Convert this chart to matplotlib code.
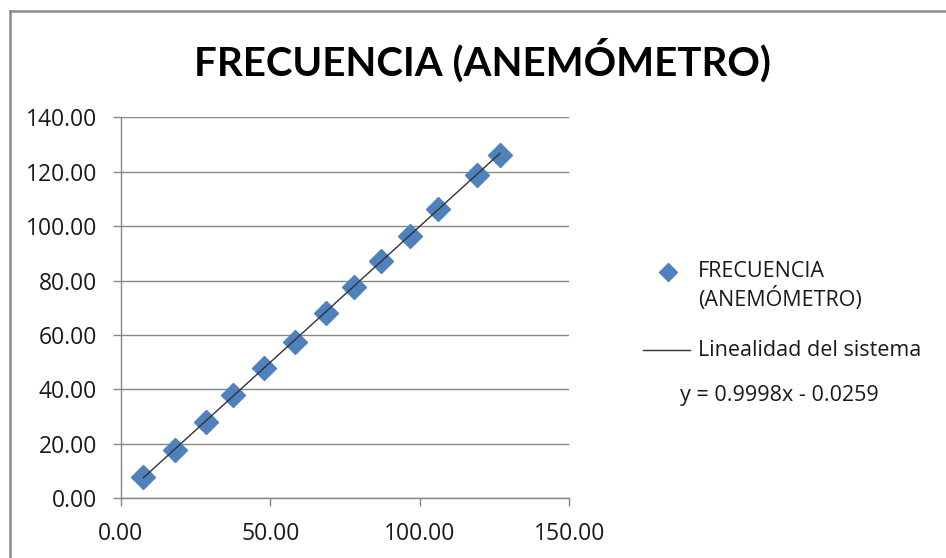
import numpy as np
import matplotlib
matplotlib.use("Agg")
import matplotlib.pyplot as plt
from matplotlib.lines import Line2D

# Measured frequency values (reference vs. anemometer)
x_ref = [7.6, 18.2, 28.4, 37.4, 48.0, 58.3, 68.5, 78.0, 87.2, 96.7, 106.2, 119.0, 126.8]
y_anem = [7.9, 17.8, 28.2, 38.0, 48.0, 57.3, 68.2, 77.8, 87.2, 96.4, 106.2, 118.8, 126.2]

# Linear trend coefficients
slope = 0.9998
intercept = -0.0259

x_ticks = [0, 50, 100, 150]
y_ticks = [0, 20, 40, 60, 80, 100, 120, 140]

title = "FRECUENCIA (ANEMÓMETRO)"
series_label = "FRECUENCIA\n(ANEMÓMETRO)"
trend_label = "Linealidad del sistema"
equation = "y = 0.9998x - 0.0259"

plt.rcParams["font.family"] = ["Open Sans", "DejaVu Sans"]

W, H = 946, 558
fig = plt.figure(figsize=(W / 100, H / 100), dpi=100)
fig.patch.set_facecolor("white")


def fx(px):
    return px / W


def fy(py):
    return 1 - py / H


# Chart frame (left and top edges)
frame_col = "#8c8c8c"
fig.add_artist(Line2D([fx(9.5), fx(9.5)], [0, fy(10.5)], transform=fig.transFigure,
                      color=frame_col, lw=1.8))
fig.add_artist(Line2D([fx(9.5), 1], [fy(10.5), fy(10.5)], transform=fig.transFigure,
                      color=frame_col, lw=1.8))

ax = fig.add_axes([fx(120.7), fy(498.3), (569.3 - 120.7) / W, (498.3 - 117.3) / H])

grid_col = "#868686"
text_col = "#1a1a1a"
ax.set_xlim(0, 150)
ax.set_ylim(0, 140)
ax.set_xticks(x_ticks)
ax.set_yticks(y_ticks)
ax.set_xticklabels([f"{v:.2f}" for v in x_ticks])
ax.set_yticklabels([f"{v:.2f}" for v in y_ticks])
ax.yaxis.grid(True, color=grid_col, lw=1.0)
ax.set_axisbelow(True)
for side in ["top", "right"]:
    ax.spines[side].set_visible(False)
for side in ["left", "bottom"]:
    ax.spines[side].set_color(grid_col)
    ax.spines[side].set_linewidth(1.0)
ax.tick_params(axis="both", direction="out", length=6, width=1.0, color=grid_col,
               labelsize=16.5, labelcolor=text_col)
ax.tick_params(axis="y", pad=11)
ax.tick_params(axis="x", pad=11)

ax.plot(x_ref, y_anem, linestyle="none", marker="D", markersize=12,
        color="#4f81bd", markeredgecolor="#4f81bd", zorder=3)

xt = np.array([min(x_ref), max(x_ref)])
ax.plot(xt, slope * xt + intercept, color="#333333", lw=1.0, zorder=4)

fig.text(fx(482), fy(60), title, ha="center", va="center",
         fontsize=29, fontweight="bold", color="black",
         family=["Lato", "DejaVu Sans"])

# Legend drawn in figure coordinates
fig.add_artist(Line2D([fx(668)], [fy(272)], transform=fig.transFigure,
                      linestyle="none", marker="D", markersize=9, color="#4f81bd"))
fig.text(fx(698), fy(286), series_label, ha="left", va="center",
         fontsize=15.5, color=text_col, linespacing=1.25)
fig.add_artist(Line2D([fx(643), fx(690)], [fy(350), fy(350)], transform=fig.transFigure,
                      color="#333333", lw=1.0))
fig.text(fx(698), fy(350), trend_label, ha="left", va="center",
         fontsize=15.5, color=text_col)
fig.text(fx(680), fy(395), equation, ha="left", va="center",
         fontsize=15.5, color=text_col)

fig.savefig("out.png", dpi=100)
